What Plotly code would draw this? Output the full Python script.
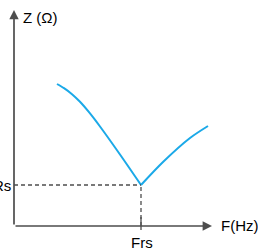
import plotly.graph_objects as go

# Data (F in arbitrary units, Z in arbitrary units; origin at axes corner)
freq_left = [43, 50, 58, 66, 75, 86, 106, 127]
z_left = [142, 137.8, 131.8, 124.2, 113.8, 99.5, 71.5, 41]
freq_right = [127, 149, 176, 194]
z_right = [41, 64, 88, 100]
f_rs = 127
r_s = 41
x_axis_end = 198
y_axis_end = 216

axis_color = "#4d4d4d"
curve_color = "#1BA9E8"
text_color = "#000000"
font_family = "Liberation Sans, Arial, sans-serif"

fig = go.Figure()
fig.add_trace(go.Scatter(x=freq_left, y=z_left, mode="lines",
                         line=dict(color=curve_color, width=2, shape="spline", smoothing=0.8),
                         hoverinfo="skip"))
fig.add_trace(go.Scatter(x=freq_right, y=z_right, mode="lines",
                         line=dict(color=curve_color, width=2, shape="spline", smoothing=0.8),
                         hoverinfo="skip"))

shapes = [
    dict(type="line", x0=0, y0=r_s, x1=f_rs, y1=r_s, xref="x", yref="y",
         line=dict(color=axis_color, width=1.3, dash="4px,3px")),
    dict(type="line", x0=f_rs, y0=0, x1=f_rs, y1=r_s, xref="x", yref="y",
         line=dict(color=axis_color, width=1.3, dash="4px,3px")),
    dict(type="line", x0=f_rs, y0=-4, x1=f_rs, y1=9, xref="x", yref="y",
         line=dict(color=axis_color, width=1.3)),
]

annotations = [
    dict(x=0, y=y_axis_end, ax=0, ay=0, xref="x", yref="y", axref="x", ayref="y",
         showarrow=True, arrowhead=2, arrowsize=1.1, arrowwidth=1.7, arrowcolor=axis_color, text=""),
    dict(x=x_axis_end, y=0, ax=0, ay=0, xref="x", yref="y", axref="x", ayref="y",
         showarrow=True, arrowhead=2, arrowsize=1.1, arrowwidth=1.7, arrowcolor=axis_color, text=""),
    dict(x=7, y=209, xref="x", yref="y", text="Z (Ω)", showarrow=False, xanchor="left", yanchor="middle",
         font=dict(family=font_family, size=15, color=text_color)),
    dict(x=205, y=1, xref="x", yref="y", text="F(Hz)", showarrow=False, xanchor="left", yanchor="middle",
         font=dict(family=font_family, size=15, color=text_color)),
    dict(x=-1, y=r_s, xref="x", yref="y", text="Rs", showarrow=False, xanchor="right", yanchor="middle",
         font=dict(family=font_family, size=15, color=text_color)),
    dict(x=f_rs + 1, y=-16, xref="x", yref="y", text="Frs", showarrow=False, xanchor="center", yanchor="middle",
         font=dict(family=font_family, size=15, color=text_color)),
]

fig.update_layout(
    width=258, height=252,
    margin=dict(l=0, r=0, t=0, b=0),
    paper_bgcolor="white", plot_bgcolor="white",
    showlegend=False,
    xaxis=dict(range=[-14, 244], visible=False, fixedrange=True),
    yaxis=dict(range=[-26, 226], visible=False, fixedrange=True),
    shapes=shapes,
    annotations=annotations,
)

fig.write_html("out.html", config={"displayModeBar": False},
               post_script="document.body.style.margin='0';document.body.style.overflow='hidden';")
